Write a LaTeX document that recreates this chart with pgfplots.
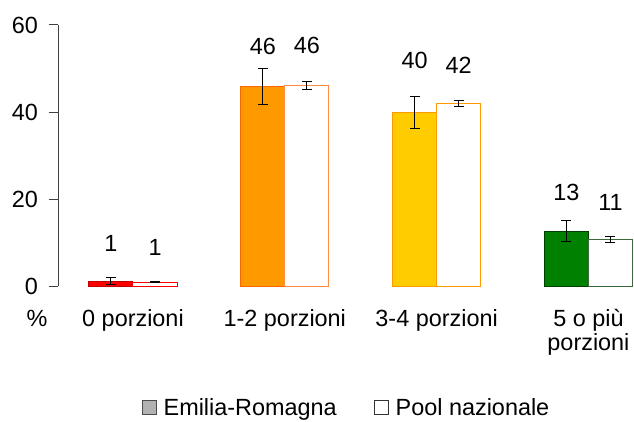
\documentclass[border=0pt]{standalone}
\usepackage{pgfplots}
\pgfplotsset{compat=1.18}
\usepackage{fontspec}
\setmainfont{Liberation Sans}

\definecolor{erRed}{HTML}{FF0000}
\definecolor{erRedD}{HTML}{C00000}
\definecolor{erOrange}{HTML}{FF9900}
\definecolor{erOrangeD}{HTML}{FF6600}
\definecolor{poolOrange}{HTML}{FF8C40}
\definecolor{erYellow}{HTML}{FFCC00}
\definecolor{erGreen}{HTML}{008000}
\definecolor{erGreenD}{HTML}{003F00}
\definecolor{poolGreen}{HTML}{3A6A3A}

\newcommand{\chartfont}{\fontsize{23.5}{24}\selectfont}

% one bar: fill, border, label offset (x already holds the side shift)
\pgfplotsset{
  onebar/.style n args={3}{
    ybar, forget plot,
    bar width=0.29, bar shift=0,
    fill=#1, draw=#2, line width=1bp,
    nodes near coords={\pgfmathprintnumber[fixed,precision=0]{\pgfplotspointmeta}},
    point meta=y,
    every node near coord/.append style={anchor=center, yshift=#3, black, font=\chartfont},
    error bars/.cd, y dir=both, y explicit,
    error bar style={black, line width=1bp},
    error mark options={rotate=90, black, mark size=5bp, line width=1bp}
  }
}

\begin{document}
\begin{tikzpicture}
\begin{axis}[
  name=ax,
  scale only axis,
  width=576bp, height=261bp,
  xmin=-0.494, xmax=3.3,
  ymin=0, ymax=60,
  axis x line=none,
  axis y line*=left,
  y axis line style={black!75, line width=1bp, -},
  ytick={0,20,40,60},
  tick align=outside,
  major tick length=9bp,
  ytick style={black!75, line width=1bp},
  yticklabel style={font=\chartfont, anchor=east, inner sep=0pt, xshift=-11bp},
  /pgf/number format/assume math mode=true,
  clip=false,
  legend style={at={(0.5,-0.467)}, anchor=center, draw=none, fill=none,
    font=\chartfont, legend columns=2,
    /tikz/every even column/.append style={column sep=34bp}},
  legend image code/.code={\draw[#1] (0bp,-7bp) rectangle (14bp,7bp);
    \path[draw=none, fill=none] (-2bp,0bp) -- (19bp,0bp);},
]
% Emilia-Romagna
\addplot[onebar={erRed}{erRedD}{38bp}] coordinates {(-0.145,1.1) +- (0,0.8)};
\addplot[onebar={erOrange}{erOrangeD}{40bp}] coordinates {(0.855,45.9) +- (0,4.1)};
\addplot[onebar={erYellow}{erOrange}{52bp}] coordinates {(1.855,39.9) +- (0,3.7)};
\addplot[onebar={erGreen}{erGreenD}{39bp}] coordinates {(2.855,12.6) +- (0,2.4)};
% Pool nazionale
\addplot[onebar={white}{erRed}{35bp}] coordinates {(0.145,0.9) +- (0,0.2)};
\addplot[onebar={white}{poolOrange}{40bp}] coordinates {(1.145,46.0) +- (0,0.9)};
\addplot[onebar={white}{erOrange}{38bp}] coordinates {(2.145,42.0) +- (0,0.75)};
\addplot[onebar={white}{poolGreen}{37bp}] coordinates {(3.145,10.7) +- (0,0.6)};

\addlegendimage{fill=black!30, draw=black!70, line width=0.8bp}
\addlegendentry{Emilia-Romagna}
\addlegendimage{fill=white, draw=black!80, line width=0.8bp}
\addlegendentry{Pool nazionale}

\node[font=\chartfont, anchor=base] at (rel axis cs:0,0) [xshift=-21bp, yshift=-40bp] {\%};
\node[font=\chartfont, anchor=base] at (axis cs:0,0) [yshift=-40bp] {0 porzioni};
\node[font=\chartfont, anchor=base] at (axis cs:1,0) [yshift=-40bp] {1-2 porzioni};
\node[font=\chartfont, anchor=base] at (axis cs:2,0) [yshift=-40bp] {3-4 porzioni};
\node[font=\chartfont, anchor=base] at (axis cs:3,0) [yshift=-40bp] {5 o più};
\node[font=\chartfont, anchor=base] at (axis cs:3,0) [yshift=-64bp] {porzioni};
\end{axis}
\path (ax.south west) ++(-58bp,-135bp) rectangle ++(634bp,421bp);
\end{tikzpicture}
\end{document}
